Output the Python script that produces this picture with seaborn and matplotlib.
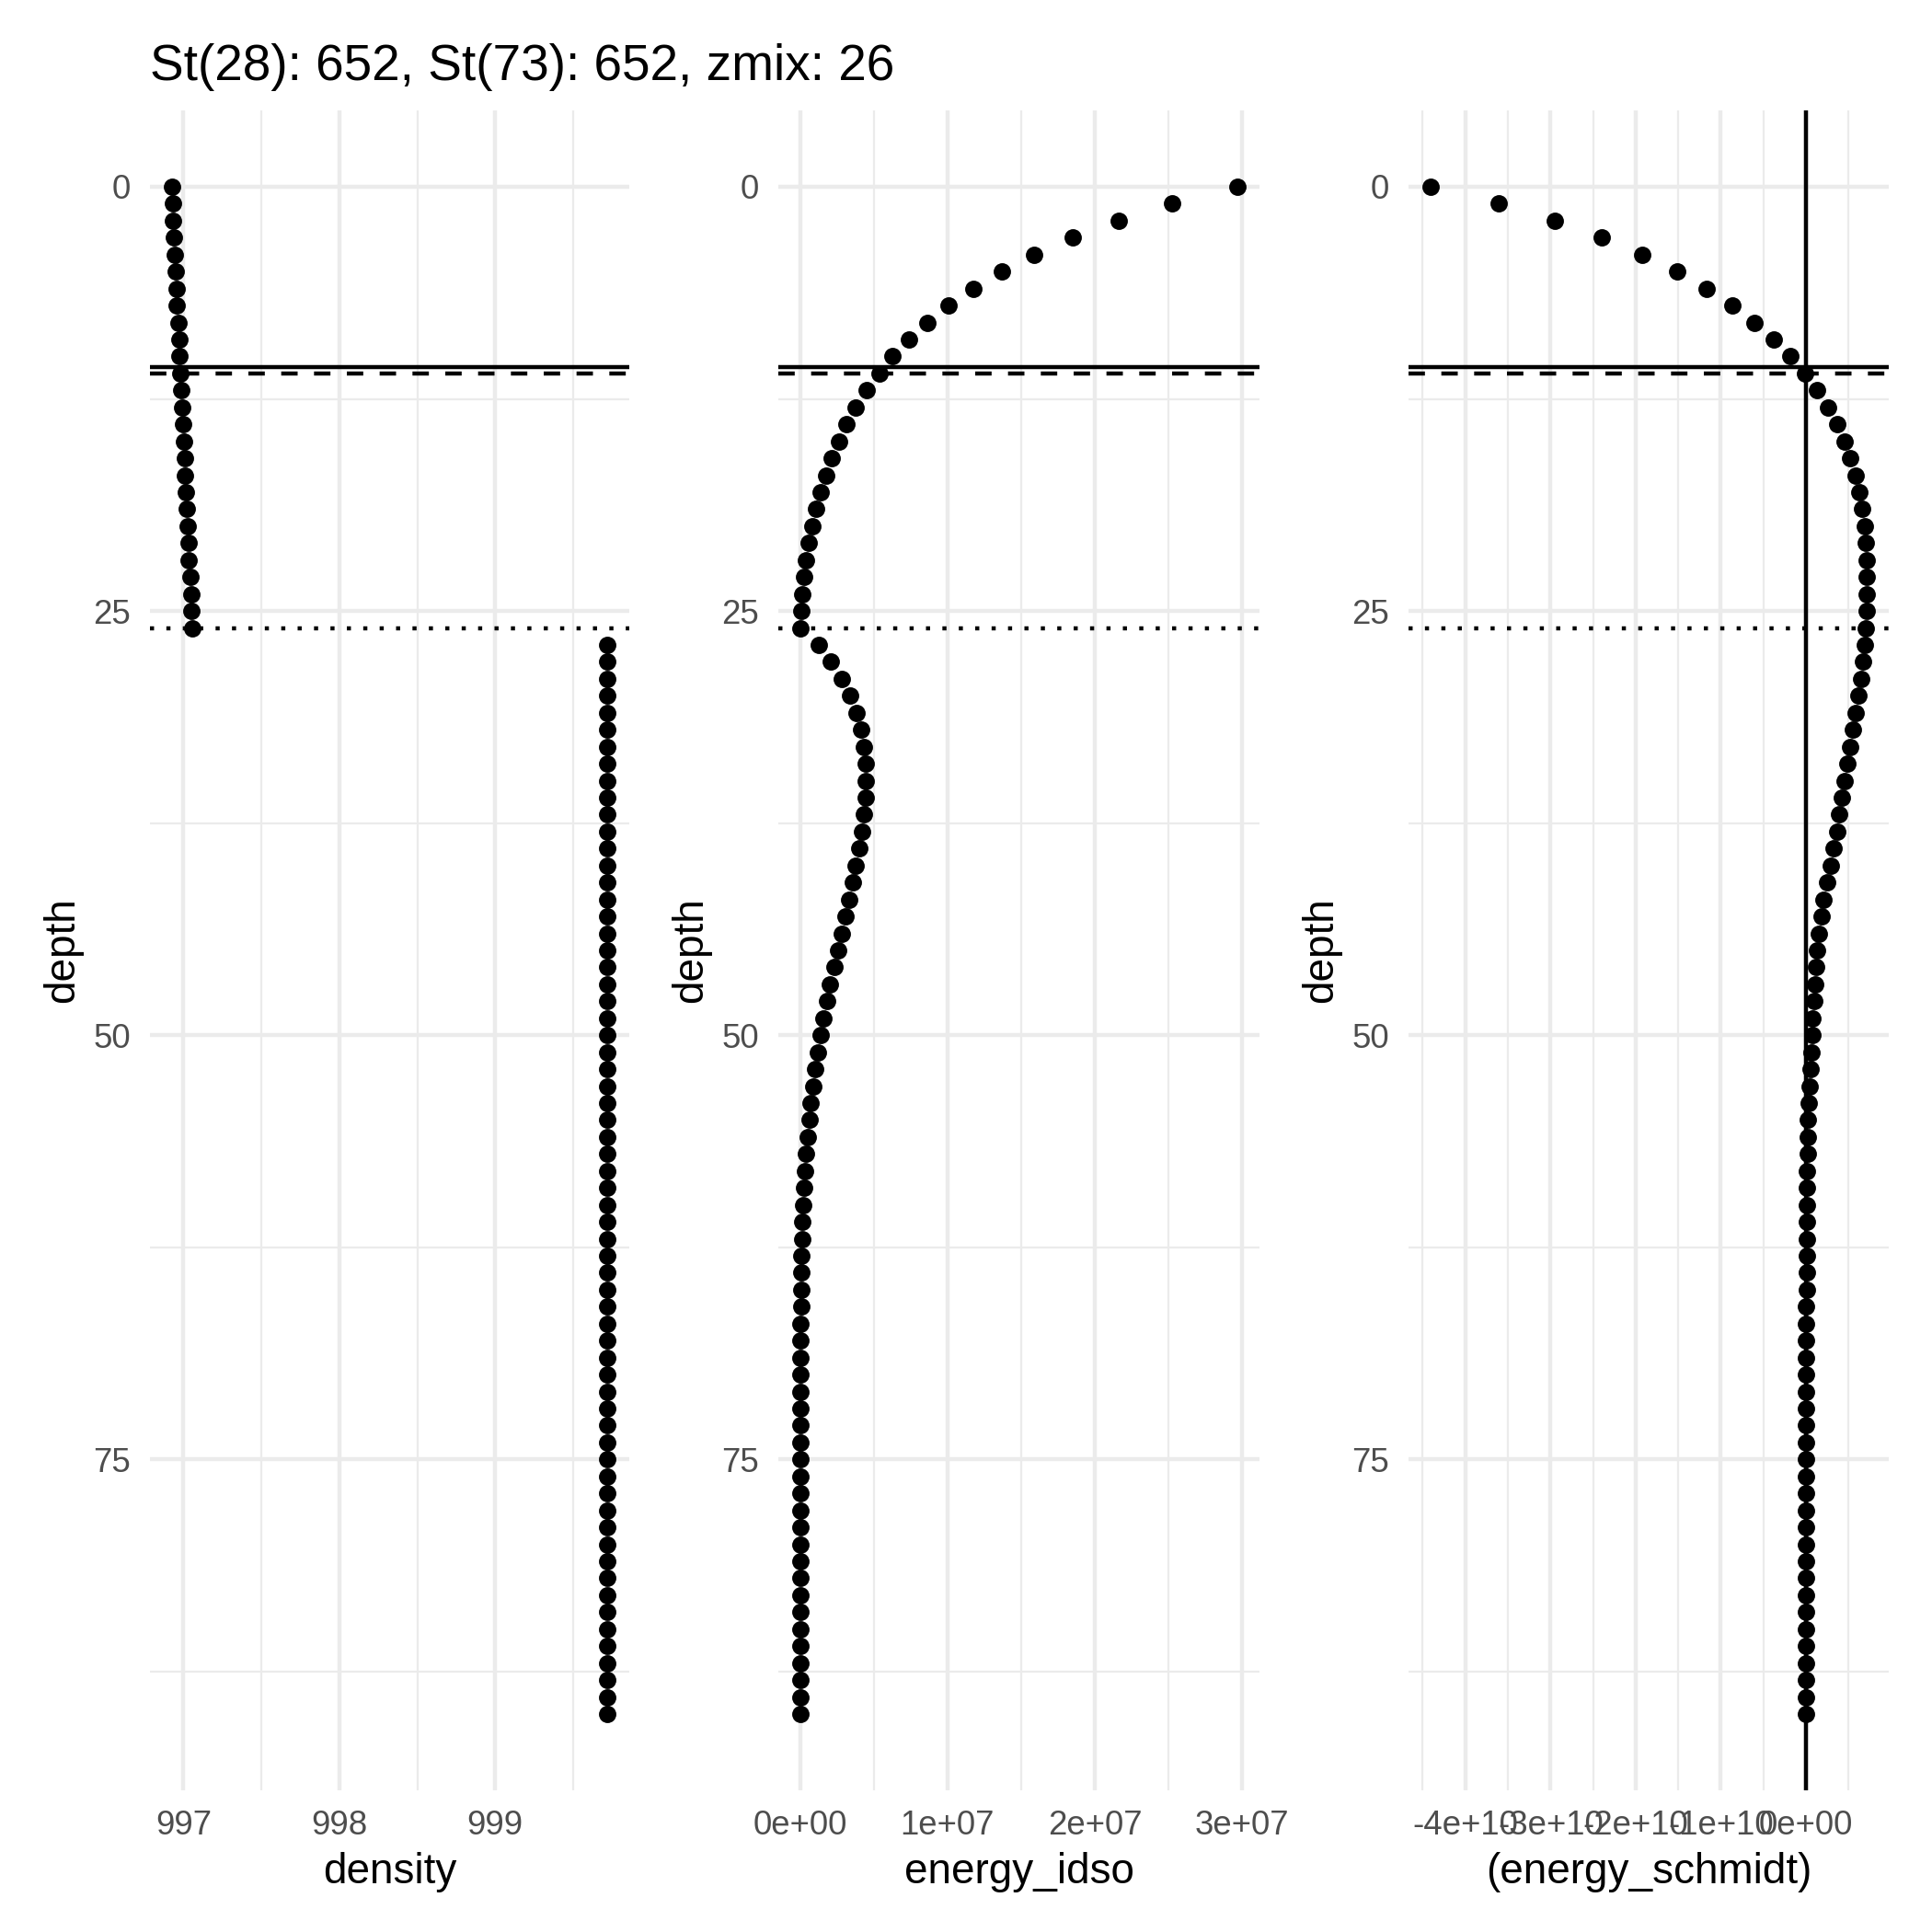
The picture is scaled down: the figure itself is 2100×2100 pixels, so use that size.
import numpy as np
import pandas as pd
import matplotlib
matplotlib.use("Agg")
import matplotlib.pyplot as plt
import seaborn as sns

# depth profile, 1 m steps
depth = np.arange(0, 91)

density = [
    996.925, 996.930, 996.934, 996.939, 996.943, 996.950, 996.955, 996.959, 996.966, 996.973,
    996.977, 996.982, 996.986, 996.991, 996.998, 997.002, 997.007, 997.011, 997.016, 997.023,
    997.027, 997.032, 997.036, 997.043, 997.048, 997.052, 997.054, 999.72, 999.72, 999.72,
    999.72, 999.72, 999.72, 999.72, 999.72, 999.72, 999.72, 999.72, 999.72, 999.72,
    999.72, 999.72, 999.72, 999.72, 999.72, 999.72, 999.72, 999.72, 999.72, 999.72,
    999.72, 999.72, 999.72, 999.72, 999.72, 999.72, 999.72, 999.72, 999.72, 999.72,
    999.72, 999.72, 999.72, 999.72, 999.72, 999.72, 999.72, 999.72, 999.72, 999.72,
    999.72, 999.72, 999.72, 999.72, 999.72, 999.72, 999.72, 999.72, 999.72, 999.72,
    999.72, 999.72, 999.72, 999.72, 999.72, 999.72, 999.72, 999.72, 999.72, 999.72, 999.72,
]

energy_idso = [
    2.97e7, 2.525e7, 2.16e7, 1.853e7, 1.59e7, 1.367e7, 1.176e7, 1.009e7, 8.63e6, 7.36e6,
    6.26e6, 5.36e6, 4.49e6, 3.78e6, 3.16e6, 2.61e6, 2.13e6, 1.75e6, 1.39e6, 1.10e6,
    8.1e5, 6.0e5, 4.1e5, 2.6e5, 1.7e5, 7e4, 0.0, 1.24e6, 2.10e6, 2.82e6,
    3.39e6, 3.83e6, 4.11e6, 4.33e6, 4.42e6, 4.45e6, 4.43e6, 4.34e6, 4.18e6, 4.01e6,
    3.78e6, 3.55e6, 3.32e6, 3.07e6, 2.80e6, 2.55e6, 2.30e6, 2.03e6, 1.80e6, 1.59e6,
    1.40e6, 1.21e6, 1.04e6, 8.8e5, 7.3e5, 6.1e5, 5.0e5, 4.2e5, 3.3e5, 2.7e5,
    2.1e5, 1.7e5, 1.3e5, 1.0e5, 8e4, 6e4, 5e4, 4e4, 4e4, 3e4,
    3e4, 2e4, 2e4, 2e4, 1e4, 1e4, 1e4, 1e4, 1e4, 1e4,
    5e3, 5e3, 5e3, 5e3, 5e3, 5e3, 5e3, 5e3, 5e3, 5e3, 5e3,
]

energy_schmidt = [
    -4.41e10, -3.608e10, -2.954e10, -2.395e10, -1.925e10, -1.517e10, -1.168e10, -8.64e9, -6.0e9, -3.76e9,
    -1.79e9, -9e7, 1.34e9, 2.60e9, 3.67e9, 4.52e9, 5.24e9, 5.82e9, 6.27e9, 6.62e9,
    6.89e9, 7.07e9, 7.16e9, 7.16e9, 7.16e9, 7.12e9, 6.98e9, 6.89e9, 6.67e9, 6.45e9,
    6.13e9, 5.82e9, 5.51e9, 5.19e9, 4.88e9, 4.57e9, 4.25e9, 3.94e9, 3.63e9, 3.20e9,
    2.90e9, 2.45e9, 2.10e9, 1.79e9, 1.52e9, 1.34e9, 1.21e9, 1.07e9, 9.4e8, 8.1e8,
    7.2e8, 6.3e8, 5.4e8, 4.5e8, 3.6e8, 2.7e8, 2.2e8, 1.9e8, 1.6e8, 1.3e8,
    1.1e8, 1.0e8, 9e7, 8e7, 7e7, 6e7, 5e7, 5e7, 4e7, 4e7,
    3e7, 3e7, 3e7, 2e7, 2e7, 2e7, 2e7, 1e7, 1e7, 1e7,
    1e7, 1e7, 1e7, 1e7, 1e7, 1e7, 1e7, 1e7, 1e7, 1e7, 1e7,
]

# reference lines
h_solid = 10.6
h_dashed = 11
zmix = 26

title = "St(28): 652, St(73): 652, zmix: 26"

y_ticks = [0, 25, 50, 75]
y_minor = [12.5, 37.5, 62.5, 87.5]
dens_ticks = [997, 998, 999]
dens_minor = [997.5, 998.5, 999.5]
idso_ticks = [0, 1e7, 2e7, 3e7]
idso_labels = ["0e+00", "1e+07", "2e+07", "3e+07"]
idso_minor = [5e6, 1.5e7, 2.5e7]
schmidt_ticks = [-4e10, -3e10, -2e10, -1e10, 0]
schmidt_labels = ["-4e+10", "-3e+10", "-2e+10", "-1e+10", "0e+00"]
schmidt_minor = [-4.5e10, -3.5e10, -2.5e10, -1.5e10, -0.5e10, 0.5e10]

df = pd.DataFrame({"depth": depth, "density": density,
                   "energy_idso": energy_idso, "energy_schmidt": energy_schmidt})

sns.set_theme(style="white")
plt.rcParams["font.family"] = ["Liberation Sans", "DejaVu Sans"]

W = 2100
fig = plt.figure(figsize=(7, 7), dpi=300)
bottom = (W - 1946) / W
height = (1946 - 120) / W
lefts = [163, 846, 1531]
widths = [521, 523, 522]

grid_major = dict(color="#EBEBEB", linewidth=1.07)
grid_minor = dict(color="#EBEBEB", linewidth=0.53)


def expand(vals):
    lo, hi = min(vals), max(vals)
    pad = (hi - lo) * 0.05
    return lo - pad, hi + pad


panels = [
    ("density", "density", dens_ticks, None, dens_minor),
    ("energy_idso", "energy_idso", idso_ticks, idso_labels, idso_minor),
    ("energy_schmidt", "(energy_schmidt)", schmidt_ticks, schmidt_labels, schmidt_minor),
]

for i, (col, xlab, ticks, labels, minor) in enumerate(panels):
    ax = fig.add_axes([lefts[i] / W, bottom, widths[i] / W, height])
    ax.set_axisbelow(True)
    sns.scatterplot(data=df, x=col, y="depth", ax=ax, color="black",
                    s=20.5, linewidth=0, zorder=3)

    ax.axhline(h_solid, color="black", linewidth=1.07, zorder=4)
    ax.axhline(h_dashed, color="black", linewidth=1.07, dashes=(4, 4), zorder=4)
    ax.axhline(zmix, color="black", linewidth=1.07, dashes=(1, 3), zorder=4)
    if col == "energy_schmidt":
        ax.axvline(0, color="black", linewidth=1.07, zorder=4)

    ax.set_xlim(expand(df[col].tolist() + ([0] if col == "energy_schmidt" else [])))
    ax.set_ylim(94.5, -4.5)

    ax.set_xticks(ticks)
    if labels is not None:
        ax.set_xticklabels(labels)
    else:
        ax.set_xticklabels([str(t) for t in ticks])
    ax.set_xticks(minor, minor=True)
    ax.set_yticks(y_ticks)
    ax.set_yticklabels([str(t) for t in y_ticks])
    ax.set_yticks(y_minor, minor=True)

    ax.grid(which="major", **grid_major)
    ax.grid(which="minor", **grid_minor)
    ax.tick_params(which="both", length=0, pad=5, labelsize=8.8, labelcolor="#4D4D4D")
    for sp in ax.spines.values():
        sp.set_visible(False)

    ax.set_xlabel(xlab, fontsize=11, color="black", labelpad=2.75)
    ax.set_ylabel("depth", fontsize=11, color="black", labelpad=2.75)

fig.text(163 / W, 1 - 87 / W, title, fontsize=13.2, ha="left", va="baseline", color="black")

fig.savefig("out.png", dpi=300, facecolor="white")
